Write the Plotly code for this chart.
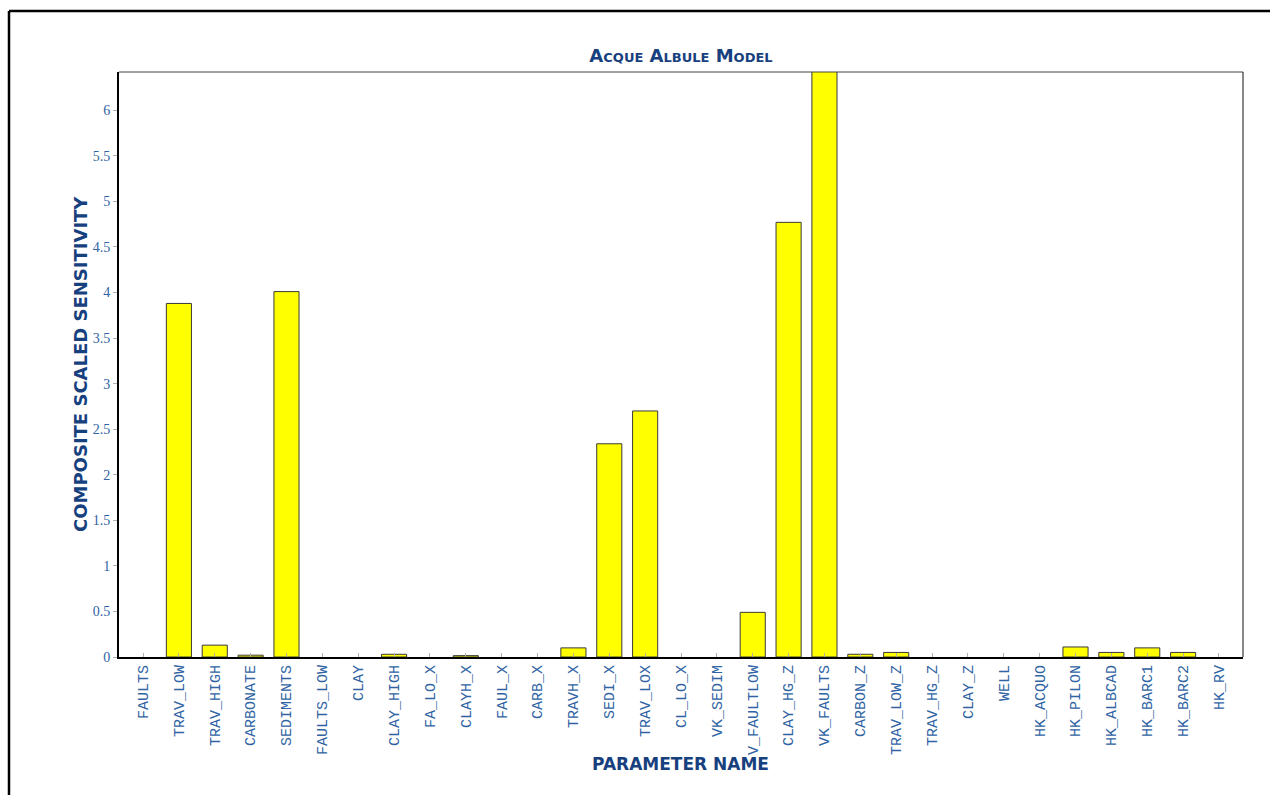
import plotly.graph_objects as go

# Parameter names along the x axis
parameters = [
    "FAULTS", "TRAV_LOW", "TRAV_HIGH", "CARBONATE", "SEDIMENTS", "FAULTS_LOW",
    "CLAY", "CLAY_HIGH", "FA_LO_X", "CLAYH_X", "FAUL_X", "CARB_X",
    "TRAVH_X", "SEDI_X", "TRAV_LOX", "CL_LO_X", "VK_SEDIM", "V_FAULTLOW",
    "CLAY_HG_Z", "VK_FAULTS", "CARBON_Z", "TRAV_LOW_Z", "TRAV_HG_Z", "CLAY_Z",
    "WELL", "HK_ACQUO", "HK_PILON", "HK_ALBCAD", "HK_BARC1", "HK_BARC2", "HK_RV",
]

# Composite scaled sensitivity for each parameter
sensitivity = [
    0.0, 3.88, 0.13, 0.02, 4.01, 0.0,
    0.0, 0.03, 0.0, 0.015, 0.0, 0.0,
    0.10, 2.34, 2.70, 0.0, 0.0, 0.49,
    4.77, 6.60, 0.03, 0.05, 0.0, 0.0,
    0.0, 0.0, 0.11, 0.05, 0.10, 0.05, 0.0,
]

y_ticks = [0, 0.5, 1, 1.5, 2, 2.5, 3, 3.5, 4, 4.5, 5, 5.5, 6]

TITLE_BLUE = "#17407e"
TICK_BLUE = "#2f63a3"

# Parameters with no sensitivity get no outline, so nothing is drawn for them
outline_widths = [1 if v > 0 else 0 for v in sensitivity]

fig = go.Figure(
    go.Bar(
        x=parameters,
        y=sensitivity,
        width=0.7,
        marker=dict(color="#ffff00",
                    line=dict(color="#3a3a3a", width=outline_widths)),
        cliponaxis=True,
    )
)

fig.update_layout(
    width=1270,
    height=795,
    margin=dict(l=119, r=27, t=72, b=138),
    paper_bgcolor="white",
    plot_bgcolor="white",
    showlegend=False,
    title=dict(
        text="Acque Albule Model",
        x=0.5,
        xanchor="center",
        y=0.93,
        yanchor="middle",
        xref="paper",
        font=dict(family="DejaVu Sans", size=18, color=TITLE_BLUE,
                  weight="bold", variant="small-caps"),
    ),
    bargap=0.3,
)

fig.update_xaxes(
    type="category",
    range=[-0.67, len(parameters) - 0.33],
    tickangle=-90,
    tickfont=dict(family="Liberation Mono", size=15, color=TICK_BLUE),
    ticks="inside",
    ticklen=4,
    tickcolor="#b0b0b0",
    showline=True,
    linecolor="black",
    linewidth=2,
    mirror=False,
    showgrid=False,
    zeroline=False,
)

fig.update_yaxes(
    range=[0, 6.42],
    tickvals=y_ticks,
    ticktext=[f"{v:g}" for v in y_ticks],
    tickfont=dict(family="Liberation Serif", size=14, color=TICK_BLUE),
    ticks="outside",
    ticklen=4,
    tickcolor="#b0b0b0",
    showline=True,
    linecolor="black",
    linewidth=2,
    showgrid=False,
    zeroline=False,
)

pw, ph = 1270 - 119 - 27, 795 - 72 - 138

# Axis titles placed as annotations for exact positioning
fig.add_annotation(
    text="COMPOSITE SCALED SENSITIVITY",
    xref="paper", yref="paper",
    x=(80 - 119) / pw, y=(657 - 364) / ph,
    xanchor="center", yanchor="middle", textangle=-90, showarrow=False,
    font=dict(family="DejaVu Sans", size=18, color=TITLE_BLUE, weight="bold"),
)
fig.add_annotation(
    text="PARAMETER NAME",
    xref="paper", yref="paper",
    x=(680 - 119) / pw, y=-(764 - 657) / ph,
    xanchor="center", yanchor="middle", showarrow=False,
    font=dict(family="DejaVu Sans", size=17, color=TITLE_BLUE, weight="bold"),
)

# Thin frame on the top and right of the plotting area
fig.add_shape(type="line", xref="paper", yref="paper", x0=0, x1=1, y0=1, y1=1,
              line=dict(color="#444444", width=1))
fig.add_shape(type="line", xref="paper", yref="paper", x0=1, x1=1, y0=0, y1=1,
              line=dict(color="#111111", width=1))

# Outer page border along the top and left edges
left_x = (9 - 119) / pw
top_y = 1 + (72 - 11) / ph
fig.add_shape(type="line", xref="paper", yref="paper",
              x0=left_x, x1=1 + 40 / pw, y0=top_y, y1=top_y,
              line=dict(color="black", width=2.5))
fig.add_shape(type="line", xref="paper", yref="paper",
              x0=left_x, x1=left_x, y0=top_y, y1=-200 / ph,
              line=dict(color="black", width=2.5))

fig.write_html("out.html")
